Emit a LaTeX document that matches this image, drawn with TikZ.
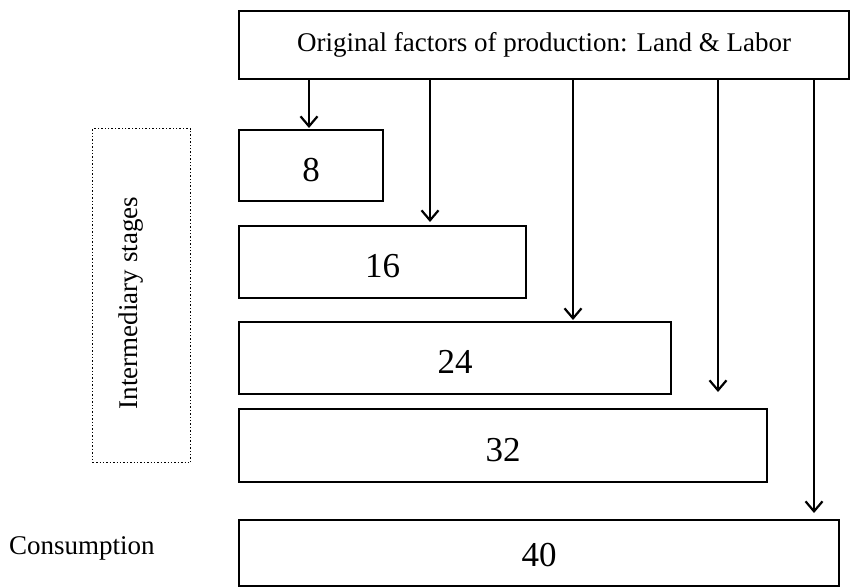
\documentclass[tikz,border=0pt]{standalone}
\usepackage{fontspec}
\setmainfont{Liberation Serif}
\usetikzlibrary{arrows.meta}
\begin{document}
\begin{tikzpicture}[x=1pt,y=-1pt,
  stagebox/.style={draw,line width=2.2pt,anchor=north west,inner sep=0pt},
  numtext/.style={font=\fontsize{35}{38}\selectfont},
  lbltext/.style={font=\fontsize{27}{30}\selectfont},
  arr/.style={line width=2.2pt,-{Straight Barb[length=10pt,width=17pt,line width=2.2pt]}}]
\useasboundingbox (0,0) rectangle (850,587);
% top box
\node[stagebox,minimum width=610pt,minimum height=68pt,lbltext] (top) at (238,10) {Original factors of production: Land \& Labor};
% stage boxes
\node[stagebox,minimum width=144pt,minimum height=71pt] (b8) at (238,129) {};
\node[numtext] at ([yshift=-4pt]b8.center) {8};
\node[stagebox,minimum width=287pt,minimum height=72pt] (b16) at (238,225) {};
\node[numtext] at ([yshift=-4pt]b16.center) {16};
\node[stagebox,minimum width=432pt,minimum height=72pt] (b24) at (238,321) {};
\node[numtext] at ([yshift=-4pt]b24.center) {24};
\node[stagebox,minimum width=528pt,minimum height=73pt] (b32) at (238,408) {};
\node[numtext] at ([yshift=-4pt]b32.center) {32};
\node[stagebox,minimum width=600pt,minimum height=66pt] (b40) at (238,519) {};
\node[numtext] at ([yshift=-2pt]b40.center) {40};
% dotted box
\node[draw,dotted,line width=1.4pt,minimum width=98pt,minimum height=334pt,anchor=north west,inner sep=0pt] (inter) at (92,128) {};
\node[lbltext,rotate=90] (interlbl) at (131,303) {Intermediary stages};
% consumption
\node[lbltext,anchor=west,inner sep=0pt] (cons) at (9,548) {Consumption};
% arrow tips
\coordinate (t1) at (309,128);
\coordinate (t2) at (430,222);
\coordinate (t3) at (573,320);
\coordinate (t4) at (718,392);
\coordinate (t5) at (814,513);
\foreach \t in {t1,t2,t3,t4,t5}{
  \draw[arr] (top.south -| \t) -- (\t);
}
\end{tikzpicture}
\end{document}
